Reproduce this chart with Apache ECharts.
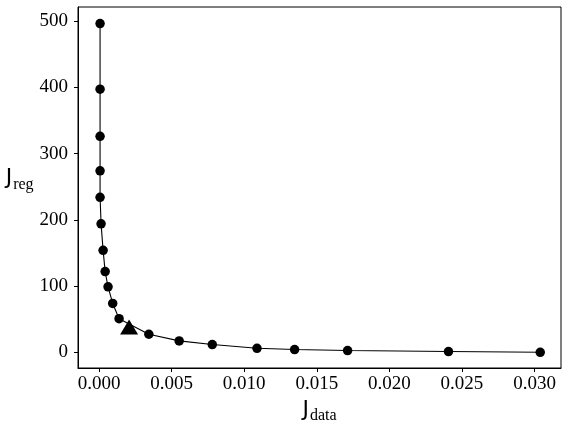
<!DOCTYPE html>
<html>
<head>
<meta charset="utf-8">
<script src="https://cdn.jsdelivr.net/npm/echarts@6/dist/echarts.min.js"></script>
<style>
  html, body { margin: 0; padding: 0; background: #fff; }
  #chart { width: 568px; height: 424px; }
</style>
</head>
<body>
<div id="chart"></div>
<script>
// L-curve points
const jData = [0.00007, 0.00007, 0.00007, 0.00007, 0.00007, 0.00014, 0.00028, 0.00042, 0.00062, 0.00094, 0.00138, 0.00343, 0.00552, 0.00780, 0.01088, 0.01347, 0.01712, 0.02407, 0.03039]
const jReg = [496, 397, 326, 274, 234, 194, 154, 122, 99, 74, 51, 27.5, 17.5, 12, 6.3, 4.4, 2.9, 1.4, 0.3]
// chosen point (triangle)
const pickData = [0.00207]
const pickReg = [38.5]
const xTicks = [0, 0.005, 0.01, 0.015, 0.02, 0.025, 0.03]
const yTicks = [0, 100, 200, 300, 400, 500]

const lineData = jData.map((x, i) => [x, jReg[i]])
const pickPoints = pickData.map((x, i) => [x, pickReg[i]])

const serif = 'Liberation Serif'
const tickFont = { fontFamily: serif, fontSize: 19, color: '#000' }
const nameRich = {
  j: { fontFamily: 'DejaVu Sans', fontSize: 22, color: '#000', lineHeight: 26 },
  s: { fontFamily: serif, fontSize: 16, color: '#000', padding: [12, 0, 0, 1] }
}

const chart = echarts.init(document.getElementById('chart'))
chart.setOption({
  animation: false,
  backgroundColor: '#fff',
  grid: {
    left: 78, right: 7, top: 7, bottom: 56,
    outerBoundsMode: 'none',
    containLabel: false,
    show: true, borderColor: '#000', borderWidth: 1
  },
  xAxis: {
    type: 'value',
    min: -0.00145,
    max: 0.03182,
    name: '{j|J}{s|data}',
    nameLocation: 'middle',
    nameGap: 22,
    nameTextStyle: { rich: nameRich },
    axisLine: { onZero: false, lineStyle: { color: '#000', width: 1 } },
    axisTick: { show: true, length: 4, customValues: xTicks, lineStyle: { color: '#000' } },
    axisLabel: Object.assign({ customValues: xTicks, margin: 7, formatter: v => v.toFixed(3) }, tickFont),
    splitLine: { show: false }
  },
  yAxis: {
    type: 'value',
    min: -23.4,
    max: 521,
    name: '{j|J}{s|reg}',
    nameLocation: 'middle',
    nameRotate: 0,
    nameGap: 38,
    nameTextStyle: { rich: nameRich, padding: [0, 0, 18, 0] },
    axisLine: { show: true, onZero: false, lineStyle: { color: '#000', width: 1 } },
    axisTick: { show: true, length: 4, customValues: yTicks, lineStyle: { color: '#000' } },
    axisLabel: Object.assign({ customValues: yTicks, margin: 10 }, tickFont),
    splitLine: { show: false }
  },
  series: [
    {
      type: 'line',
      data: lineData,
      symbol: 'circle',
      symbolSize: 9.5,
      itemStyle: { color: '#000', opacity: 1 },
      lineStyle: { color: '#000', width: 1.1 },
      z: 2
    },
    {
      type: 'scatter',
      data: pickPoints,
      symbol: 'triangle',
      symbolSize: [18, 15],
      itemStyle: { color: '#000', opacity: 1 },
      z: 3
    }
  ]
})
</script>
</body>
</html>
